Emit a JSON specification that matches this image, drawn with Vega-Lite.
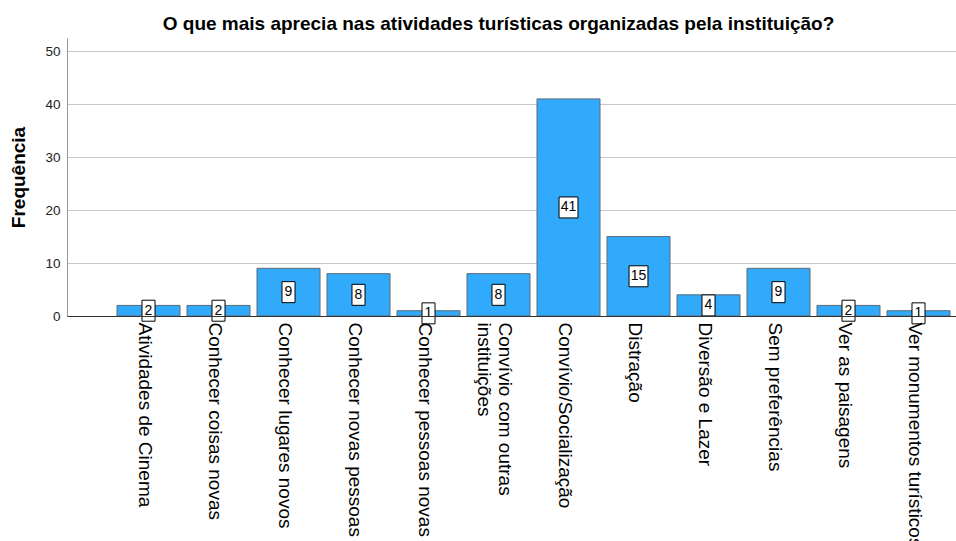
{
  "$schema": "https://vega.github.io/schema/vega-lite/v6.json",
  "width": 889,
  "height": 278,
  "autosize": "none",
  "padding": {"left": 67, "top": 38, "right": 0, "bottom": 225},
  "background": "white",
  "title": {
    "text": "O que mais aprecia nas atividades turísticas organizadas pela instituição?",
    "font": "Liberation Sans",
    "fontSize": 19,
    "fontWeight": "bold",
    "color": "black",
    "anchor": "middle",
    "dx": -13,
    "dy": 19,
    "offset": 8,
    "baseline": "alphabetic"
  },
  "data": {
    "values": [
      {"categoria": "Atividades de Cinema", "frequencia": 2},
      {"categoria": "Conhecer coisas novas", "frequencia": 2},
      {"categoria": "Conhecer lugares novos", "frequencia": 9},
      {"categoria": "Conhecer novas pessoas", "frequencia": 8},
      {"categoria": "Conhecer pessoas novas", "frequencia": 1},
      {"categoria": "Convívio com outras instituições", "frequencia": 8},
      {"categoria": "Convívio/Socialização", "frequencia": 41},
      {"categoria": "Distração", "frequencia": 15},
      {"categoria": "Diversão e Lazer", "frequencia": 4},
      {"categoria": "Sem preferências", "frequencia": 9},
      {"categoria": "Ver as paisagens", "frequencia": 2},
      {"categoria": "Ver monumentos turísticos", "frequencia": 1}
    ]
  },
  "encoding": {
    "x": {
      "field": "categoria",
      "type": "nominal",
      "sort": null,
      "scale": {"paddingInner": 0.1, "paddingOuter": 0.4, "align": 0.893},
      "axis": {
        "title": null,
        "zindex": 1,
        "domainColor": "#333333",
        "domainWidth": 1,
        "ticks": false,
        "labelAngle": 90,
        "labelAlign": "left",
        "labelBaseline": "middle",
        "labelPadding": 6,
        "labelOffset": {"condition": {"test": "datum.value == 'Convívio com outras instituições'", "value": 6}, "value": -4},
        "labelFont": "Liberation Sans",
        "labelFontSize": 19,
        "labelColor": "black",
        "labelLimit": 400,
        "labelOverlap": false,
        "labelLineHeight": 21,
        "labelExpr": "datum.value == 'Convívio com outras instituições' ? ['Convívio com outras', 'instituições'] : datum.value"
      }
    }
  },
  "layer": [
    {
      "mark": {"type": "bar", "color": "#32AAFC", "stroke": "#5B6B78", "strokeWidth": 1},
      "encoding": {
        "y": {
          "field": "frequencia",
          "type": "quantitative",
          "scale": {"domain": [0, 52.5], "nice": false},
          "axis": {
            "title": "Frequência",
            "titleFont": "Liberation Sans",
            "titleFontSize": 19,
            "titleFontWeight": "bold",
            "titleColor": "black",
            "titlePadding": 16,
            "values": [0, 10, 20, 30, 40, 50],
            "grid": true,
            "gridColor": "#C8C8C8",
            "gridWidth": 1,
            "ticks": false,
            "domainColor": "#999999",
            "labelFont": "Liberation Sans",
            "labelFontSize": 13.5,
            "labelColor": "#222222",
            "labelPadding": 7
          }
        }
      }
    },
    {
      "mark": {"type": "point", "filled": true, "fill": "white", "stroke": "black", "strokeWidth": 1, "opacity": 1, "size": 441},
      "encoding": {
        "y": {
          "field": "frequencia",
          "type": "quantitative",
          "scale": {"domain": [0, 105], "nice": false},
          "axis": null
        },
        "shape": {
          "condition": {"test": "datum.frequencia >= 10", "value": "M-0.9,-1H0.9V1H-0.9Z"},
          "value": "M-0.62,-1H0.62V1H-0.62Z"
        }
      }
    },
    {
      "mark": {"type": "text", "font": "Liberation Sans", "fontSize": 14, "color": "black", "align": "center", "baseline": "middle"},
      "encoding": {
        "y": {
          "field": "frequencia",
          "type": "quantitative",
          "scale": {"domain": [0, 105], "nice": false},
          "axis": null
        },
        "text": {"field": "frequencia", "type": "quantitative"}
      }
    }
  ],
  "resolve": {"scale": {"y": "independent"}},
  "config": {"view": {"stroke": null}}
}
